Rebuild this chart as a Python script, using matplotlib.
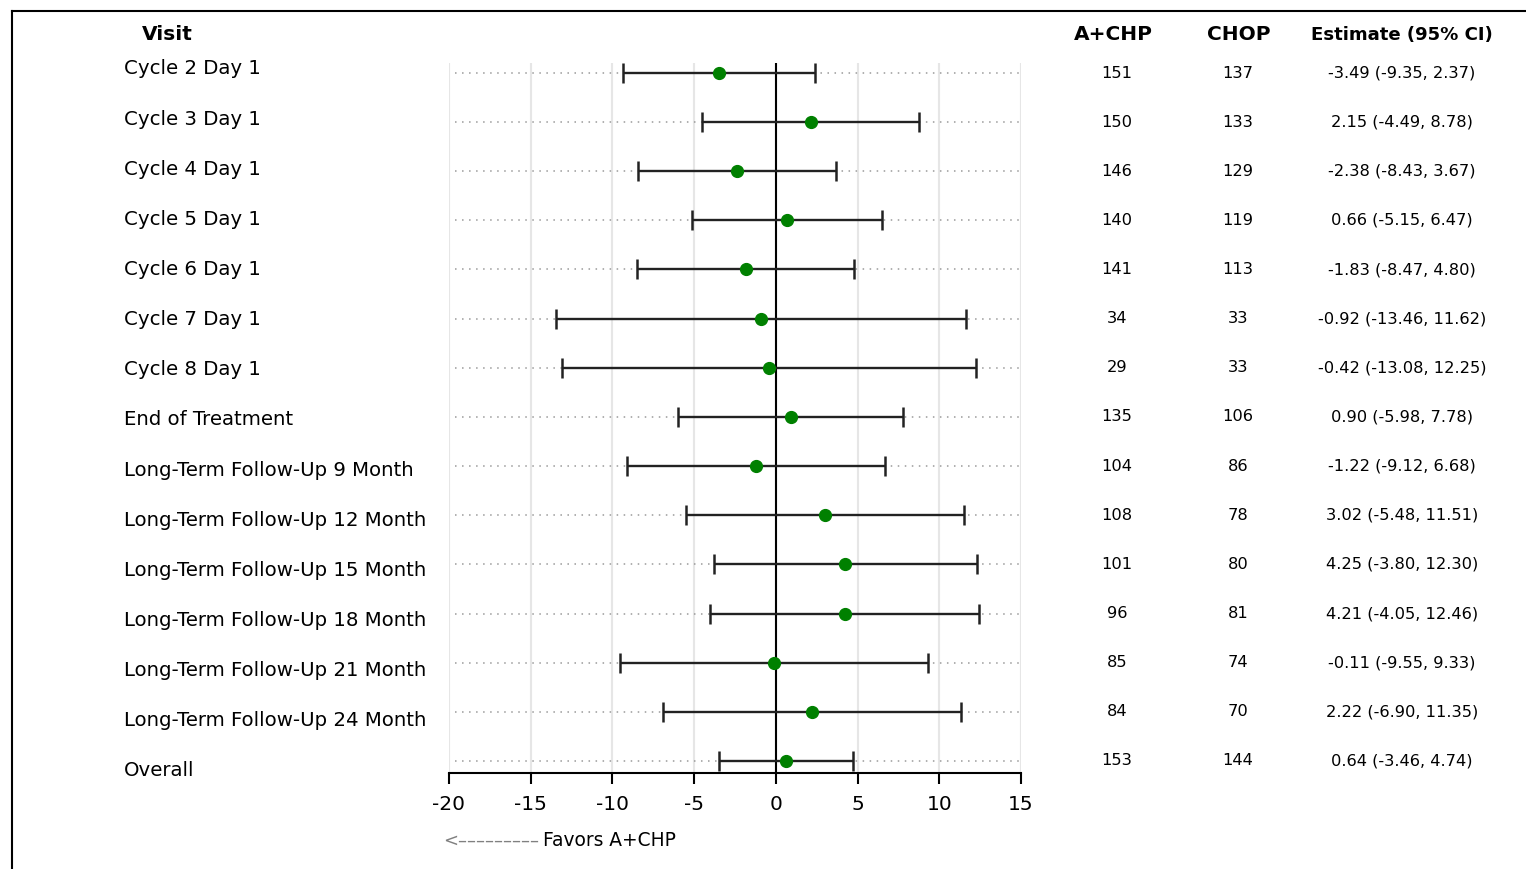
import matplotlib
matplotlib.use("Agg")
import matplotlib.pyplot as plt
from matplotlib.lines import Line2D

visits = [
    "Cycle 2 Day 1", "Cycle 3 Day 1", "Cycle 4 Day 1", "Cycle 5 Day 1",
    "Cycle 6 Day 1", "Cycle 7 Day 1", "Cycle 8 Day 1", "End of Treatment",
    "Long-Term Follow-Up 9 Month", "Long-Term Follow-Up 12 Month",
    "Long-Term Follow-Up 15 Month", "Long-Term Follow-Up 18 Month",
    "Long-Term Follow-Up 21 Month", "Long-Term Follow-Up 24 Month", "Overall",
]
n_achp = [151, 150, 146, 140, 141, 34, 29, 135, 104, 108, 101, 96, 85, 84, 153]
n_chop = [137, 133, 129, 119, 113, 33, 33, 106, 86, 78, 80, 81, 74, 70, 144]
estimate = [-3.49, 2.15, -2.38, 0.66, -1.83, -0.92, -0.42, 0.90, -1.22, 3.02,
            4.25, 4.21, -0.11, 2.22, 0.64]
ci_low = [-9.35, -4.49, -8.43, -5.15, -8.47, -13.46, -13.08, -5.98, -9.12,
          -5.48, -3.80, -4.05, -9.55, -6.90, -3.46]
ci_high = [2.37, 8.78, 3.67, 6.47, 4.80, 11.62, 12.25, 7.78, 6.68, 11.51,
           12.30, 12.46, 9.33, 11.35, 4.74]
x_ticks = [-20, -15, -10, -5, 0, 5, 10, 15]

W, H = 1526, 869
fig = plt.figure(figsize=(W / 100, H / 100), dpi=100)
plt.rcParams["font.family"] = ["DejaVu Sans"]


def fx(px):
    return px / W


def fy(py):
    return 1 - py / H


ax = fig.add_axes([fx(449), fy(773), fx(1021) - fx(449), fy(63) - fy(773)])
rows = list(range(len(visits)))
ax.set_xlim(x_ticks[0], x_ticks[-1])
ax.set_ylim(len(visits) - 1 + 0.244, -0.2)

# vertical grid lines
for t in x_ticks:
    ax.axvline(t, color="#e6e6e6", lw=1.5, zorder=0)

# dotted reference line for every visit
ax.hlines(rows, x_ticks[0] + 0.35, x_ticks[-1], colors="#9a9a9a",
          linestyles=(0, (1, 3.6)), lw=1.1, zorder=1)

# zero line
ax.axvline(0, color="black", lw=1.5, zorder=2)

xerr = [[e - lo for e, lo in zip(estimate, ci_low)],
        [hi - e for e, hi in zip(estimate, ci_high)]]
ax.errorbar(estimate, rows, xerr=xerr, fmt="o", color="#1e1e1e",
            ecolor="#222222", elinewidth=1.7, capsize=7.5, capthick=1.8,
            markerfacecolor="#008000", markeredgecolor="#008000",
            markersize=8.5, zorder=3)

for s in ["top", "left", "right"]:
    ax.spines[s].set_visible(False)
ax.spines["bottom"].set_linewidth(1.5)
ax.set_yticks([])
ax.set_xticks(x_ticks)
ax.set_xticklabels([str(t) for t in x_ticks], fontsize=14.5)
ax.tick_params(axis="x", length=8, width=1.5, direction="out", pad=8)

# headers
fig.text(fx(142), fy(35), "Visit", fontsize=14.5, fontweight="bold",
         ha="left", va="center")
fig.text(fx(1113), fy(35), "A+CHP", fontsize=14.5, fontweight="bold",
         ha="center", va="center")
fig.text(fx(1239), fy(35), "CHOP", fontsize=14.5, fontweight="bold",
         ha="center", va="center")
fig.text(fx(1402), fy(35), "Estimate (95% CI)", fontsize=13.1,
         fontweight="bold", ha="center", va="center")

# row labels and table columns
for i, name in enumerate(visits):
    fig.text(fx(124), fy(69 + i * 50.14), name, fontsize=14.2,
             ha="left", va="center")
    ty = fy(73 + i * 49.14)
    fig.text(fx(1117), ty, str(n_achp[i]), fontsize=11.7, ha="center",
             va="center")
    fig.text(fx(1238), ty, str(n_chop[i]), fontsize=11.7, ha="center",
             va="center")
    fig.text(fx(1402), ty,
             f"{estimate[i]:.2f} ({ci_low[i]:.2f}, {ci_high[i]:.2f})",
             fontsize=11.7, ha="center", va="center")

# direction note under the axis
fig.text(fx(443), fy(841), "<" + "\u2013" * 9,
         fontsize=13, color="#808080", ha="left", va="center")
fig.text(fx(543), fy(841), "Favors A+CHP", fontsize=13.4, ha="left",
         va="center")

# outer frame (left and top edges)
fig.add_artist(Line2D([fx(12), fx(12)], [fy(869), fy(11)], color="black",
                      lw=1.5, transform=fig.transFigure))
fig.add_artist(Line2D([fx(12), fx(1526)], [fy(11), fy(11)], color="black",
                      lw=1.5, transform=fig.transFigure))

fig.savefig("out.png", dpi=100)
